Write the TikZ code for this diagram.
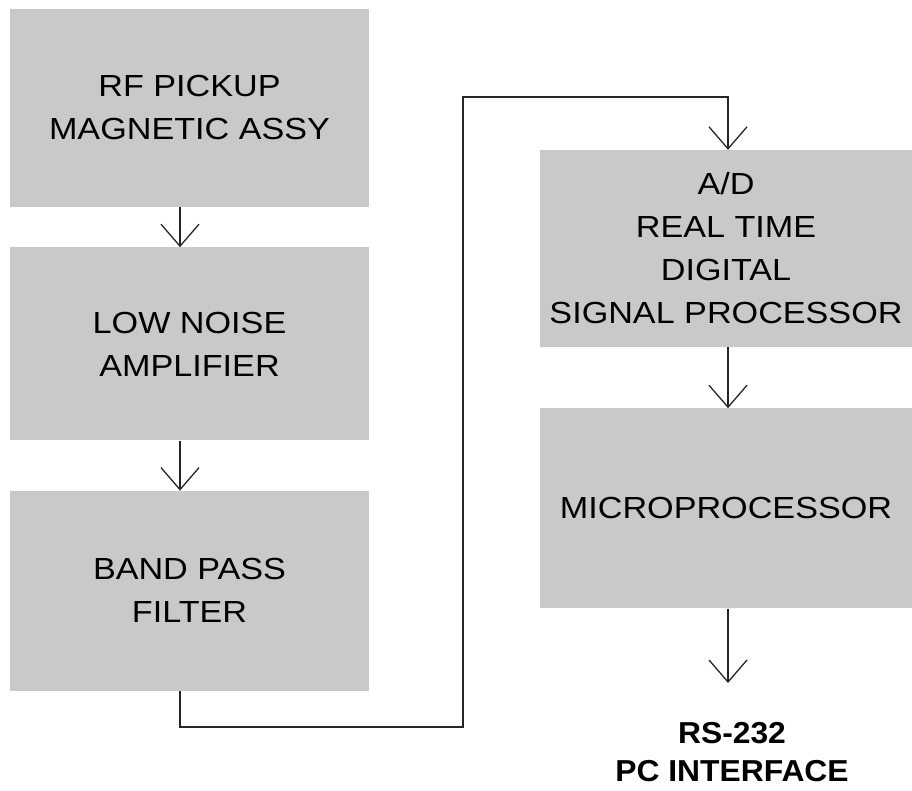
\documentclass[tikz,border=0pt]{standalone}
\usepackage{fontspec}
\setmainfont{Liberation Sans}[FakeStretch=1.12]
\newfontfamily\interfacefont{Liberation Sans}[FakeStretch=1.05]
\usepackage{tikz}
\usetikzlibrary{positioning,calc,arrows.meta}

\begin{document}
\begin{tikzpicture}[x=1pt,y=-1pt,
    block/.style={fill=black!21, inner sep=0pt, align=center,
        font=\fontsize{30.5}{43}\selectfont},
    leftblock/.style={block, minimum width=359pt},
    rightblock/.style={block, minimum width=372pt},
    flow/.style={line width=1.3pt, draw=black!85,
        -{Straight Barb[length=22pt,width=38pt,line width=1.3pt]}}]
    \useasboundingbox (0,0) rectangle (912,791);
    \node[leftblock, minimum height=198pt] (rf) at (189.5,108) {RF PICKUP\\MAGNETIC ASSY};
    \node[leftblock, minimum height=193pt, below=40pt of rf] (lna) {LOW NOISE\\AMPLIFIER};
    \node[leftblock, minimum height=200pt, below=50pt of lna] (bpf) {BAND PASS\\FILTER};
    \node[rightblock, minimum height=197pt] (dsp) at (726,248.5) {A/D\\REAL TIME\\DIGITAL\\SIGNAL PROCESSOR};
    \node[rightblock, minimum height=200pt, below=61pt of dsp] (mpu) {MICROPROCESSOR};
    \node[align=center, inner sep=0pt, font=\interfacefont\bfseries\fontsize{30.3}{38}\selectfont]
        (rs) at (732,752) {RS-232\\PC INTERFACE};
    \coordinate (lowturn) at (463,727);
    \coordinate (highturn) at (463,97);
    \coordinate (rsin) at (728,683);
    \draw[flow] ([xshift=-9.5pt]rf.south) -- ([xshift=-9.5pt]lna.north);
    \draw[flow] ([xshift=-9.5pt]lna.south) -- ([xshift=-9.5pt]bpf.north);
    \draw[flow] ([xshift=-9.5pt]bpf.south) |- (lowturn) -- (highturn) -| ([xshift=2pt]dsp.north);
    \draw[flow] ([xshift=2pt]dsp.south) -- ([xshift=2pt]mpu.north);
    \draw[flow] ([xshift=2pt]mpu.south) -- (rsin);
\end{tikzpicture}
\end{document}
